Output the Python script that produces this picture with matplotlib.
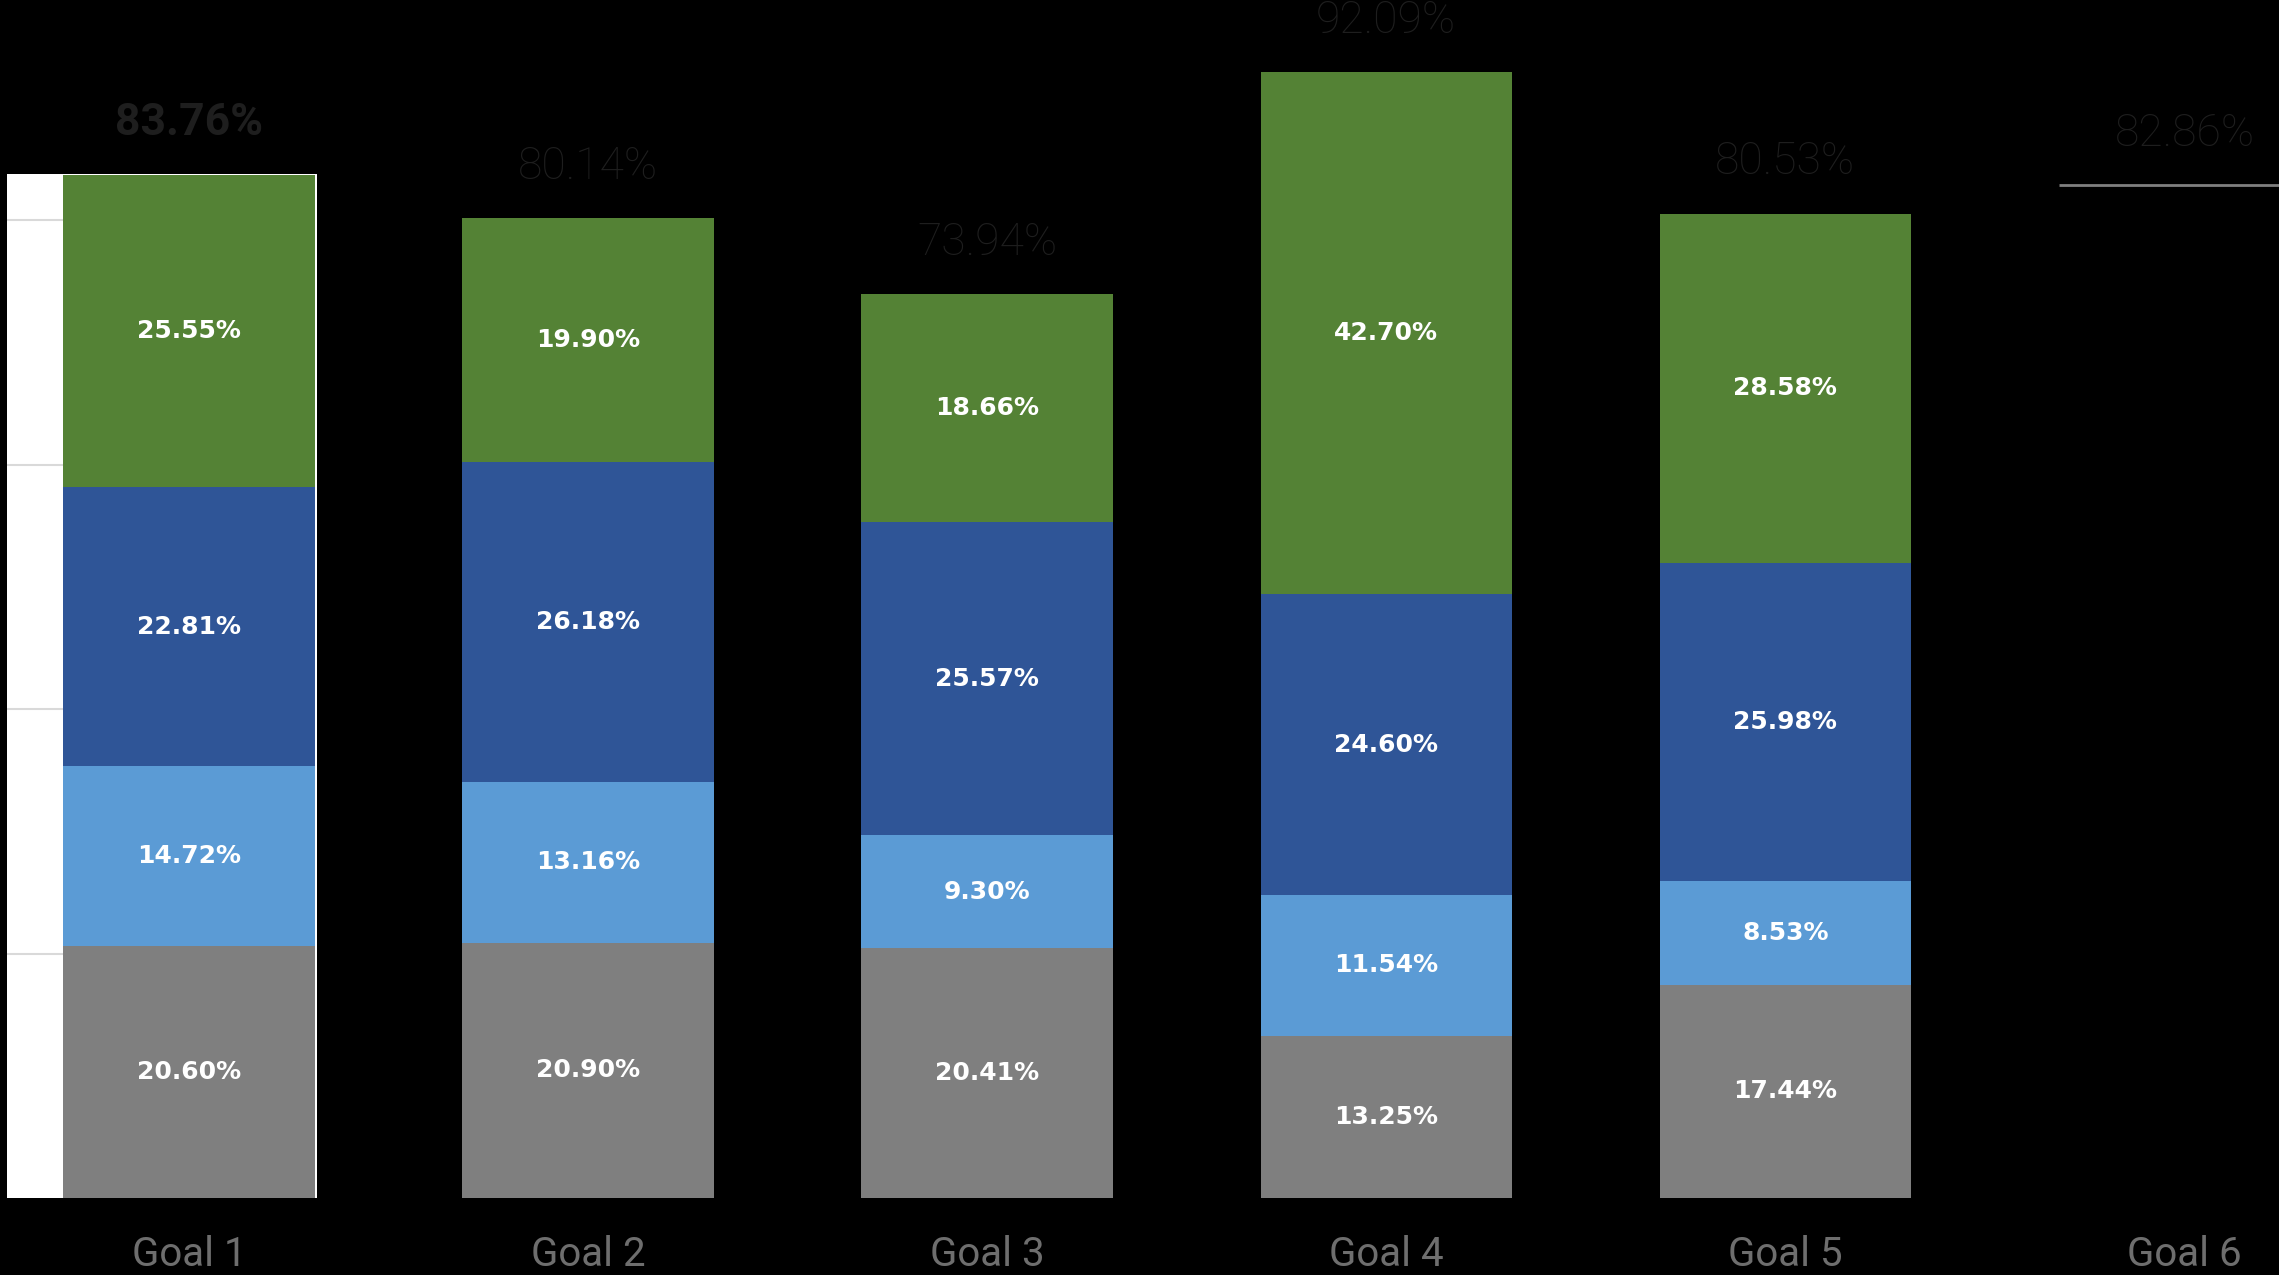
#!/usr/bin/env python3
"""Stacked percentage bars per goal, with totals above each bar."""

import matplotlib
matplotlib.use("Agg")
import matplotlib.pyplot as plt
import numpy as np

GOALS = ["Goal 1", "Goal 2", "Goal 3", "Goal 4", "Goal 5", "Goal 6"]
TOTALS = [83.76, 80.14, 73.94, 92.09, 80.53, 82.86]

# segments only readable for goals 1-5 (bottom to top)
SEG_GRAY = [20.60, 20.90, 20.41, 13.25, 17.44]
SEG_LIGHT_BLUE = [14.72, 13.16, 9.30, 11.54, 8.53]
SEG_DARK_BLUE = [22.81, 26.18, 25.57, 24.60, 25.98]
SEG_GREEN = [25.55, 19.90, 18.66, 42.70, 28.58]

SERIES = [
    (SEG_GRAY, "#7F7F7F"),
    (SEG_LIGHT_BLUE, "#5B9BD5"),
    (SEG_DARK_BLUE, "#2F5597"),
    (SEG_GREEN, "#548235"),
]

BG = "#000000"
WIDTH = 0.63
THIN = ["Roboto", "DejaVu Sans"]


def main():
    fig = plt.figure(figsize=(22.79, 12.75), dpi=100, facecolor=BG)
    ax = fig.add_axes([0.0, 0.0604, 1.0, 0.9396])
    ax.set_facecolor(BG)

    x = np.arange(len(GOALS))
    n = len(SEG_GRAY)

    # white plot-area remnant left of the first bar, with its gridlines
    ax.add_patch(plt.Rectangle((-0.455, -0.3), 0.455 + WIDTH / 2 + 0.005, TOTALS[0] + 0.3,
                               facecolor="white", edgecolor="none", zorder=0))
    for level in (20, 40, 60, 80):
        ax.hlines(level, -0.455, WIDTH / 2, color="#D9D9D9", linewidth=1.5, zorder=1)

    bottom = np.zeros(n)
    for values, color in SERIES:
        vals = np.asarray(values)
        ax.bar(x[:n], vals, WIDTH, bottom=bottom, color=color, edgecolor="none", zorder=2)
        for xi, b, v in zip(x[:n], bottom, vals):
            ax.text(xi, b + v / 2, f"{v:.2f}%", ha="center", va="center",
                    color="white", fontsize=18, weight="bold", zorder=4)
        bottom += vals

    # last goal: bar body lost against the background, only its top edge shows
    ax.bar(x[n:], TOTALS[n:], WIDTH, color=BG, edgecolor="none", zorder=2)
    ax.hlines(TOTALS[n:], x[n:] - WIDTH / 2, x[n:] + WIDTH / 2, color="#7F7F7F",
              linewidth=2, zorder=3)

    for i, total in enumerate(TOTALS):
        ax.annotate(f"{total:.2f}%", (x[i], total), xytext=(0, 37), textcoords="offset points",
                    ha="center", va="center", fontsize=32, color="#1E1E1E",
                    family=THIN, weight="bold" if i == 0 else "light")

    ax.set_xlim(-0.4736, 5.2368)
    ax.set_ylim(0, 98.0)
    ax.set_xticks(x)
    ax.set_xticklabels(GOALS, fontsize=29, color="#6E6E6E", family=THIN)
    ax.tick_params(axis="x", length=0, pad=27)
    ax.set_yticks([])
    for spine in ax.spines.values():
        spine.set_visible(False)

    fig.savefig("out.png", dpi=100, facecolor=fig.get_facecolor())
    plt.close(fig)


if __name__ == "__main__":
    main()
